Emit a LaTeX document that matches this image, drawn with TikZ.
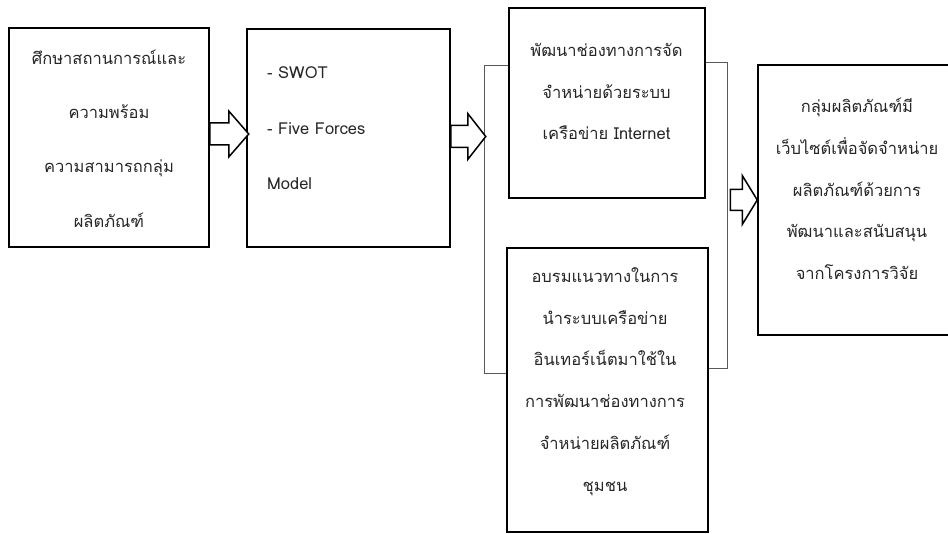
\documentclass[tikz,border=0pt]{standalone}
\usepackage{fontspec}
\setmainfont[Script=Thai]{Loma}
\usetikzlibrary{calc}

\begin{document}
\begin{tikzpicture}[x=1pt, y=-1pt,
    fat/.style={draw,line width=1.5pt,fill=white,line join=miter}]
\useasboundingbox (0,0) rectangle (948,534);
\clip (0,0) rectangle (948,534);

% boxes
\begin{scope}[every node/.style={draw,line width=1.5pt,inner sep=0pt}]
    \node (study) at (109,137.5) [minimum width=200pt,minimum height=219pt] {};
    \node (tools) at (348.5,138) [minimum width=203pt,minimum height=218pt] {};

    % % two activities
    \node (web) at (607,103) [minimum width=196pt,minimum height=190pt] {};
    \node (train) at (607.5,390) [minimum width=201pt,minimum height=284pt] {};

    % % outcome (runs past the right edge)
    \node (result) at (857,200) [minimum width=198pt,minimum height=270pt] {};
\end{scope}

% texts
\begin{scope}[every node/.style={align=center,inner sep=0pt,text=black!85,font=\fontsize{16.5}{54.3}\selectfont}]
    \node (studytext) at (109,138.5) {ศึกษาสถานการณ์และ\\ความพร้อม\\ความสามารถกลุ่ม\\ผลิตภัณฑ์};
    \node (toolstext) at (267,128.5) [anchor=west,align=left,font=\fontsize{16.5}{55.5}\selectfont] {- SWOT\\- Five Forces\\Model};
\end{scope}

\begin{scope}[every node/.style={align=center,inner sep=0pt,text=black!85,font=\fontsize{16.5}{41.8}\selectfont}]
    \node (webtext) at (606.5,91.5) {พัฒนาช่องทางการจัด\\จำหน่ายด้วยระบบ\\เครือข่าย Internet};
    \node (traintext) at (605,381.5) {อบรมแนวทางในการ\\นำระบบเครือข่าย\\อินเทอร์เน็ตมาใช้ใน\\การพัฒนาช่องทางการ\\จำหน่ายผลิตภัณฑ์\\ชุมชน};
    \node (resulttext) at (857,189) {กลุ่มผลิตภัณฑ์มี\\เว็บไซต์เพื่อจัดจำหน่าย\\ผลิตภัณฑ์ด้วยการ\\พัฒนาและสนับสนุน\\จากโครงการวิจัย};
\end{scope}

% brackets round the two activities
\begin{scope}[draw=black!65, line width=0.8pt]
    \draw ([yshift=-58pt]web.north west) -- ++(-24,0) |- ([yshift=-126pt]train.north west);
    \draw ([yshift=-55pt]web.north east) -- ++(22,0) |- ([yshift=-121pt]train.north east);
\end{scope}

% block arrows
\draw[fat] ($(study.east)+(0,-3.5)$) -- ++(0,-11) -- ++(19,0) -- ++(0,-12) -- ++(20,23) -- ++(-20,23) -- ++(0,-12) -- ++(-19,0) -- cycle;
\draw[fat] ($(tools.east)+(0,-1.5)$) -- ++(0,-11) -- ++(17,0) -- ++(0,-12) -- ++(18,23) -- ++(-18,23) -- ++(0,-12) -- ++(-17,0) -- cycle;
\draw[fat] ($(result.west)+(-27,0)$) -- ++(0,-10.5) -- ++(12,0) -- ++(0,-14) -- ++(15,24.5) -- ++(-15,24.5) -- ++(0,-14) -- ++(-12,0) -- cycle;
\end{tikzpicture}
\end{document}
